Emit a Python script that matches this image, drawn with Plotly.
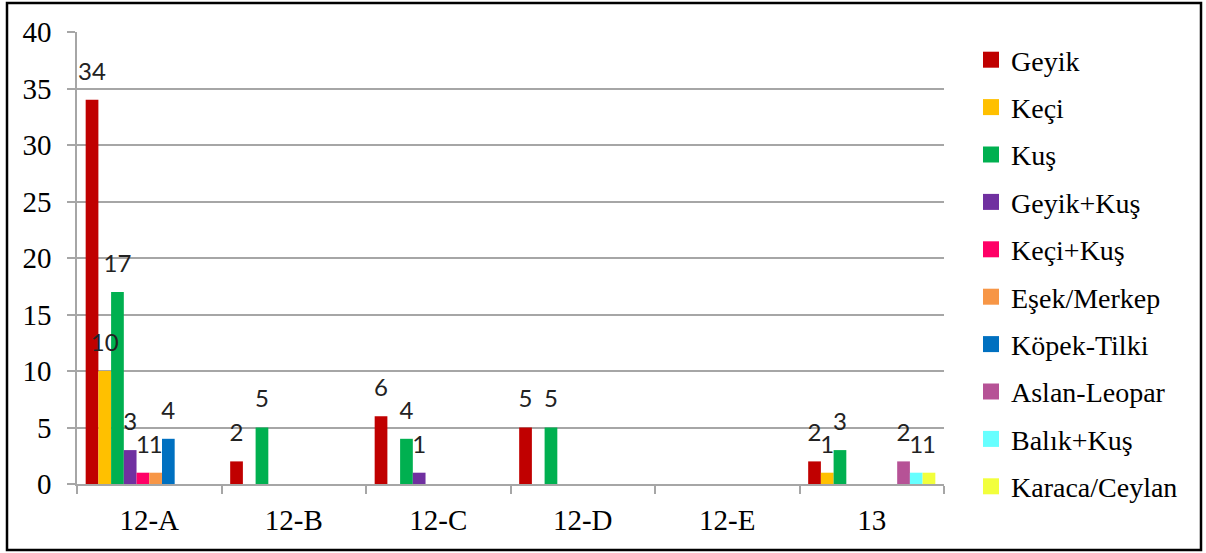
import plotly.graph_objects as go

categories = ["12-A", "12-B", "12-C", "12-D", "12-E", "13"]

series_names = ["Geyik", "Keçi", "Kuş", "Geyik+Kuş", "Keçi+Kuş", "Eşek/Merkep",
                "Köpek-Tilki", "Aslan-Leopar", "Balık+Kuş", "Karaca/Ceylan"]

geyik = [34, 2, 6, 5, None, 2]
keci = [10, None, None, None, None, 1]
kus = [17, 5, 4, 5, None, 3]
geyik_kus = [3, None, 1, None, None, None]
keci_kus = [1, None, None, None, None, None]
esek_merkep = [1, None, None, None, None, None]
kopek_tilki = [4, None, None, None, None, None]
aslan_leopar = [None, None, None, None, None, 2]
balik_kus = [None, None, None, None, None, 1]
karaca_ceylan = [None, None, None, None, None, 1]

series_values = [geyik, keci, kus, geyik_kus, keci_kus, esek_merkep,
                 kopek_tilki, aslan_leopar, balik_kus, karaca_ceylan]

colors = ["#C00000", "#FFC000", "#00B050", "#7030A0", "#FF0066", "#F79646",
          "#0070C0", "#B65296", "#66FFFF", "#F2FF3C"]

y_ticks = [0, 5, 10, 15, 20, 25, 30, 35, 40]

SERIF = "Liberation Serif, Times New Roman, Times, DejaVu Serif, serif"
SANS = "Lato, Liberation Sans, sans-serif"
GRID = "#A6A6A6"
BARGAP = 0.12

n = len(series_names)
slot = (1 - BARGAP) / n

fig = go.Figure()
for i, (name, vals, col) in enumerate(zip(series_names, series_values, colors)):
    fig.add_trace(go.Bar(
        x=categories, y=vals, name=name, marker=dict(color=col, line=dict(width=0)),
        showlegend=False, legendgroup=name, hoverinfo="x+y+name",
    ))
    # data labels on an overlaid linear axis aligned with the category slots
    off = -(1 - BARGAP) / 2 + slot * (i + 0.5)
    xs = [k + off for k, v in enumerate(vals) if v is not None]
    ys = [v for v in vals if v is not None]
    fig.add_trace(go.Scatter(
        x=xs, y=ys, xaxis="x2", mode="markers+text",
        text=[str(v) for v in ys], textposition="top center",
        marker=dict(size=21, opacity=0, color=col),
        textfont=dict(family=SANS, size=24, color="#222222"),
        showlegend=False, legendgroup=name, hoverinfo="skip", cliponaxis=False,
    ))
for name, col in zip(series_names, colors):
    fig.add_trace(go.Scatter(
        x=[None], y=[None], mode="markers", name=name, legendgroup=name,
        marker=dict(symbol="square", size=16, color=col), showlegend=True,
    ))

L, R, T, B = 77, 262, 32, 69
W, H = 1206, 553
pw, ph = W - L - R, H - T - B

def px_x(px):
    return (px - L) / pw

def px_y(py):
    return (H - B - py) / ph

fig.update_layout(
    width=W, height=H,
    margin=dict(l=L, r=R, t=T, b=B, pad=0),
    paper_bgcolor="white", plot_bgcolor="white",
    barmode="group", bargap=BARGAP, bargroupgap=0,
    font=dict(family=SERIF, size=28, color="black"),
    legend=dict(
        x=px_x(971), y=px_y(35), xanchor="left", yanchor="top",
        font=dict(family=SERIF, size=28, color="black"),
        tracegroupgap=8, itemwidth=30, bgcolor="rgba(0,0,0,0)",
        maxheight=1000,
    ),
    xaxis=dict(
        type="category", categoryorder="array", categoryarray=categories,
        range=[-0.5, len(categories) - 0.5],
        showline=True, linecolor=GRID, linewidth=1.5,
        ticks="outside", tickson="boundaries", ticklen=8, tickcolor=GRID, tickwidth=1.5,
        tickfont=dict(family=SERIF, size=29, color="black"),
        ticklabelstandoff=9, showgrid=False, zeroline=False,
    ),
    xaxis2=dict(
        overlaying="x", range=[-0.5, len(categories) - 0.5], visible=False,
        showgrid=False, zeroline=False,
    ),
    yaxis=dict(
        range=[0, 40], tickvals=y_ticks, ticktext=[str(v) for v in y_ticks],
        showline=True, linecolor=GRID, linewidth=1.5,
        ticks="outside", ticklen=8, tickcolor=GRID, tickwidth=1.5,
        showgrid=True, gridcolor=GRID, gridwidth=1.5, zeroline=False,
        tickfont=dict(family=SERIF, size=29, color="black"),
        ticklabelstandoff=10,
    ),
    shapes=[dict(
        type="rect", xref="paper", yref="paper",
        x0=px_x(7), x1=px_x(1201), y0=px_y(550), y1=px_y(3),
        line=dict(color="black", width=2.5), fillcolor="rgba(0,0,0,0)", layer="above",
    )],
)

fig.write_html(
    "out.html",
    config={"displayModeBar": False},
    post_script="document.body.style.margin='0';document.body.style.overflow='hidden';",
)
